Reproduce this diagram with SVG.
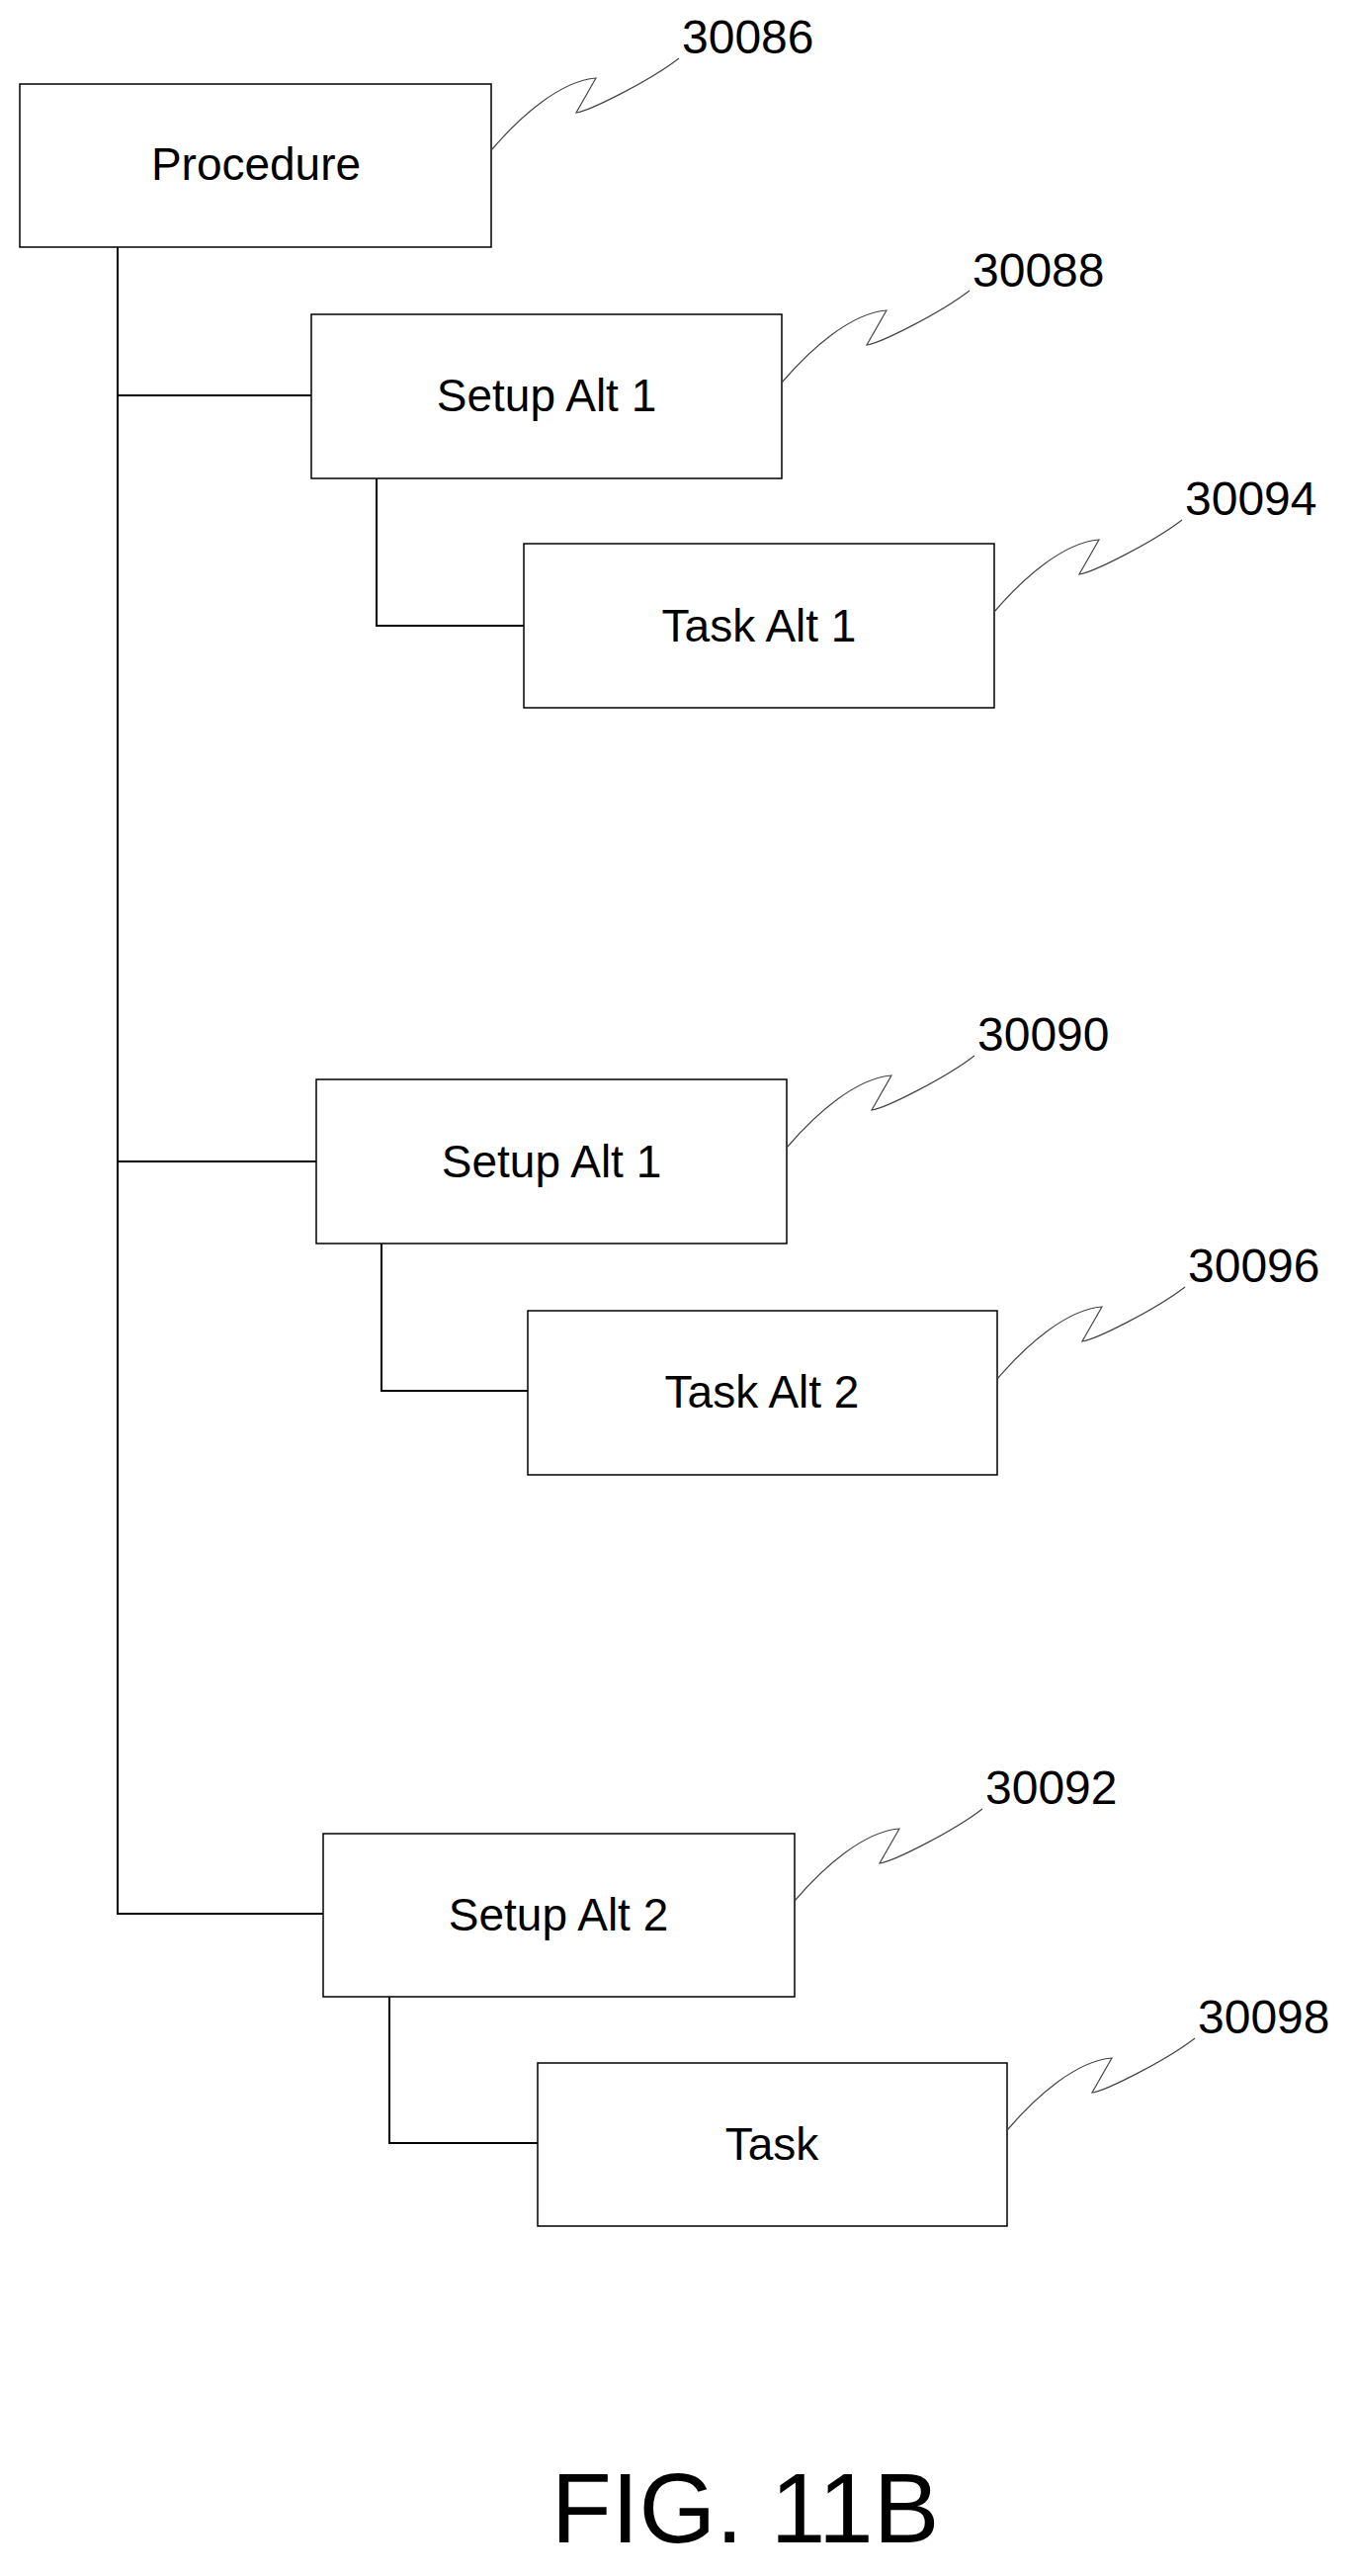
<svg xmlns="http://www.w3.org/2000/svg" width="1369" height="2606" viewBox="0 0 1369 2606">
<style>
.box{fill:#fff;stroke:#000;stroke-width:1.5}
.t{font-family:"Liberation Sans",Arial,sans-serif;font-size:46px;text-anchor:middle;fill:#000}
.n{font-family:"Liberation Sans",Arial,sans-serif;font-size:48px;fill:#000}
.c{fill:none;stroke:#000;stroke-width:2}
.l{fill:none;stroke:#444;stroke-width:1.2}
</style>
<defs>
<path id="lead" d="M0,0 C30,-35 70,-70 106,-73 L86,-38 C100,-40 160,-70 190,-93"/>
</defs>
<rect width="1369" height="2606" fill="#fff"/>
<g id="connectors">
<path class="c" d="M119,250 V1936 H327 M119,400 H315 M119,1175 H320"/>
<path class="c" d="M381,484 V633 H530"/>
<path class="c" d="M386,1258 V1407 H534"/>
<path class="c" d="M394,2020 V2168 H544"/>
</g>
<g id="procedure"><rect class="box" x="20" y="85" width="477" height="165"/><text class="t" x="259" y="182">Procedure</text><use href="#lead" class="l" x="497" y="152"/><text class="n" x="690" y="54">30086</text></g>
<g id="setup1a"><rect class="box" x="315" y="318" width="476" height="166"/><text class="t" x="553" y="416">Setup Alt 1</text><use href="#lead" class="l" x="791" y="387"/><text class="n" x="984" y="290">30088</text></g>
<g id="task1"><rect class="box" x="530" y="550" width="476" height="166"/><text class="t" x="768" y="649">Task Alt 1</text><use href="#lead" class="l" x="1006" y="619"/><text class="n" x="1199" y="521">30094</text></g>
<g id="setup1b"><rect class="box" x="320" y="1092" width="476" height="166"/><text class="t" x="558" y="1191">Setup Alt 1</text><use href="#lead" class="l" x="796" y="1161"/><text class="n" x="989" y="1063">30090</text></g>
<g id="task2"><rect class="box" x="534" y="1326" width="475" height="166"/><text class="t" x="771" y="1424">Task Alt 2</text><use href="#lead" class="l" x="1009" y="1395"/><text class="n" x="1202" y="1297">30096</text></g>
<g id="setup2"><rect class="box" x="327" y="1855" width="477" height="165"/><text class="t" x="565" y="1953">Setup Alt 2</text><use href="#lead" class="l" x="804" y="1923"/><text class="n" x="997" y="1825">30092</text></g>
<g id="task"><rect class="box" x="544" y="2087" width="475" height="165"/><text class="t" x="781" y="2185">Task</text><use href="#lead" class="l" x="1019" y="2155"/><text class="n" x="1212" y="2057">30098</text></g>
<text class="t" x="754" y="2572" style="font-size:100px">FIG. 11B</text>
</svg>
